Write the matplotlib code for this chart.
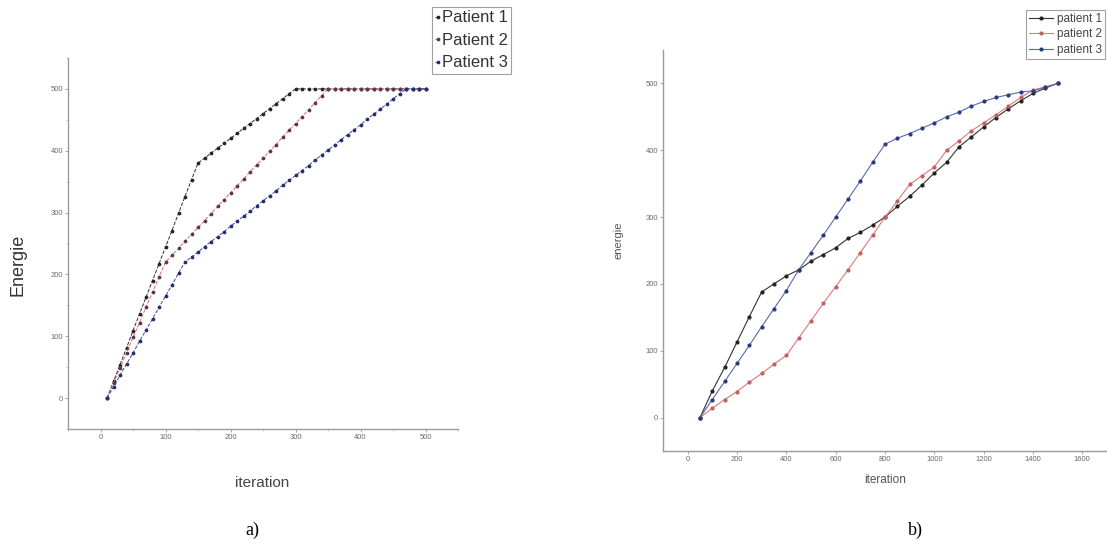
import numpy as np
import matplotlib
matplotlib.use("Agg")
import matplotlib.pyplot as plt
from matplotlib.ticker import MultipleLocator

plt.rcParams.update({
    "figure.facecolor": "white",
    "axes.facecolor":   "white",
    "font.family":      ["Liberation Sans", "DejaVu Sans"],
})

# ---- panel a) : energy vs iteration (step 10) ----
iter_a = [10, 20, 30, 40, 50, 60, 70, 80, 90, 100,
          110, 120, 130, 140, 150, 160, 170, 180, 190, 200,
          210, 220, 230, 240, 250, 260, 270, 280, 290, 300,
          310, 320, 330, 340, 350, 360, 370, 380, 390, 400,
          410, 420, 430, 440, 450, 460, 470, 480, 490, 500]

energy_a_p1 = [0, 27, 54, 81, 109, 136, 163, 190, 217, 244,
               271, 299, 326, 353, 380, 388, 396, 404, 412, 420,
               428, 436, 444, 452, 460, 468, 476, 484, 492, 500,
               500, 500, 500, 500, 500, 500, 500, 500, 500, 500,
               500, 500, 500, 500, 500, 500, 500, 500, 500, 500]

energy_a_p2 = [0, 24, 49, 73, 98, 122, 147, 171, 196, 220,
               231, 242, 254, 265, 276, 287, 298, 310, 321, 332,
               343, 354, 366, 377, 388, 399, 410, 422, 433, 444,
               455, 466, 478, 489, 500, 500, 500, 500, 500, 500,
               500, 500, 500, 500, 500, 500, 500, 500, 500, 500]

energy_a_p3 = [0, 18, 37, 55, 73, 92, 110, 128, 147, 165,
               183, 202, 220, 228, 236, 245, 253, 261, 269, 278,
               286, 294, 302, 311, 319, 327, 335, 344, 352, 360,
               368, 376, 385, 393, 401, 409, 418, 426, 434, 442,
               451, 459, 467, 475, 484, 492, 500, 500, 500, 500]

labels_a = ["Patient 1", "Patient 2", "Patient 3"]

# ---- panel b) : energy vs iteration (step 50) ----
iter_b = [50, 100, 150, 200, 250, 300, 350, 400, 450, 500,
          550, 600, 650, 700, 750, 800, 850, 900, 950, 1000,
          1050, 1100, 1150, 1200, 1250, 1300, 1350, 1400, 1450, 1500]

energy_b_p1 = [0, 40, 75, 113, 151, 188, 200, 212, 221, 234,
               244, 254, 268, 277, 288, 300, 316, 331, 348, 366,
               382, 405, 420, 435, 449, 462, 474, 485, 493, 500]

energy_b_p2 = [0, 14, 27, 39, 53, 66, 80, 93, 119, 145,
               171, 196, 221, 247, 273, 300, 324, 349, 362, 375,
               400, 414, 429, 441, 453, 466, 479, 490, 495, 500]

energy_b_p3 = [0, 27, 54, 81, 108, 136, 163, 190, 221, 247,
               273, 300, 327, 354, 382, 409, 418, 425, 433, 441,
               450, 457, 466, 473, 479, 483, 487, 489, 494, 500]

labels_b = ["patient 1", "patient 2", "patient 3"]

W, H = 1107, 548
fig = plt.figure(figsize=(W / 100, H / 100), dpi=100)


def style_axes(ax):
    for s in ["top", "right"]:
        ax.spines[s].set_visible(False)
    for s in ["left", "bottom"]:
        ax.spines[s].set_color("#9a9a9a")
        ax.spines[s].set_linewidth(1.0)
    ax.tick_params(axis="both", which="major", labelsize=5.5,
                   colors="#9a9a9a", labelcolor="#6a6a6a",
                   length=2, width=0.6, pad=1.5)
    ax.tick_params(axis="both", which="minor", length=1.5,
                   width=0.5, colors="#bbbbbb")


# ---------------- panel a ----------------
ax1 = fig.add_axes([68 / W, 1 - 429 / H, 390 / W, 371 / H])
colors_a = ["#2a2a3a", "#e06a6a", "#3a4a9a"]
mcol_a = ["#252530", "#5a3a4a", "#22306e"]
for y, c, mc, lab in zip([energy_a_p1, energy_a_p2, energy_a_p3],
                         colors_a, mcol_a, labels_a):
    ax1.plot(iter_a, y, linestyle="--", linewidth=0.7, color=c,
             marker="o", markersize=1.7, markerfacecolor=mc,
             markeredgecolor=mc, label=lab)
ax1.set_xlim(-50, 550)
ax1.set_ylim(-50, 550)
ax1.xaxis.set_major_locator(MultipleLocator(100))
ax1.yaxis.set_major_locator(MultipleLocator(100))
ax1.xaxis.set_minor_locator(MultipleLocator(50))
ax1.yaxis.set_minor_locator(MultipleLocator(50))
style_axes(ax1)
fig.text(18 / W, 1 - 265 / H, "Energie", rotation=90, ha="center",
         va="center", fontsize=13, color="#333333")
fig.text(262 / W, 1 - 483 / H, "iteration", ha="center", va="center",
         fontsize=11, color="#444444")

h1, l1 = ax1.get_legend_handles_labels()
leg1 = fig.legend(h1, l1, loc="upper right",
                  bbox_to_anchor=(511 / W, 1 - 7 / H),
                  fontsize=12, handlelength=0.3, handletextpad=0.1,
                  borderpad=0.2, labelspacing=0.45, frameon=True,
                  fancybox=False, borderaxespad=0)
leg1.get_frame().set_edgecolor("#888888")
leg1.get_frame().set_linewidth(0.8)
for t in leg1.get_texts():
    t.set_color("#333333")

# ---------------- panel b ----------------
ax2 = fig.add_axes([663 / W, 1 - 451 / H, 444 / W, 401 / H])
colors_b = ["#333333", "#e07878", "#5a6aaa"]
mcol_b = ["#222222", "#c06060", "#2a3a80"]
for y, c, mc, lab in zip([energy_b_p1, energy_b_p2, energy_b_p3],
                         colors_b, mcol_b, labels_b):
    ax2.plot(iter_b, y, linestyle="-", linewidth=0.8, color=c,
             marker="o", markersize=2.0, markerfacecolor=mc,
             markeredgecolor=mc, label=lab)
ax2.set_xlim(-100, 1700)
ax2.set_ylim(-50, 550)
ax2.xaxis.set_major_locator(MultipleLocator(200))
ax2.yaxis.set_major_locator(MultipleLocator(100))
style_axes(ax2)
fig.text(618 / W, 1 - 240 / H, "energie", rotation=90, ha="center",
         va="center", fontsize=8, color="#555555")
fig.text(885 / W, 1 - 480 / H, "iteration", ha="center", va="center",
         fontsize=8.5, color="#555555")

h2, l2 = ax2.get_legend_handles_labels()
leg2 = fig.legend(h2, l2, loc="upper right",
                  bbox_to_anchor=(1105 / W, 1 - 10 / H),
                  fontsize=8.5, handlelength=2.1, handletextpad=0.3,
                  borderpad=0.25, labelspacing=0.3, frameon=True,
                  fancybox=False, borderaxespad=0)
leg2.get_frame().set_edgecolor("#888888")
leg2.get_frame().set_linewidth(0.8)
for t in leg2.get_texts():
    t.set_color("#444444")

# captions
fig.text(252 / W, 1 - 530 / H, "a)", ha="center", va="center",
         fontsize=13, family=["Liberation Serif", "DejaVu Serif"])
fig.text(915 / W, 1 - 530 / H, "b)", ha="center", va="center",
         fontsize=13, family=["Liberation Serif", "DejaVu Serif"])

fig.savefig("out.png", dpi=100)
